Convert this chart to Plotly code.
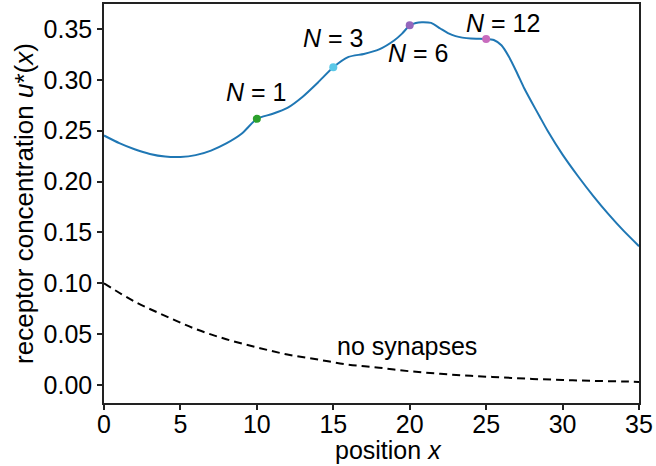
import plotly.graph_objects as go

# Blue curve u*(x) with synapses
x_syn = [0, 1, 2, 3, 4, 5, 6, 7, 8, 9, 10, 11, 12, 13, 14, 15, 16, 17, 18, 19, 19.5, 20,
         20.4, 20.8, 21.4, 22, 22.5, 23, 24, 25, 25.5, 26, 26.5, 27, 27.5, 28, 28.5, 29,
         30, 31, 32, 33, 34, 35]
u_syn = [0.2453, 0.2378, 0.2318, 0.2272, 0.2246, 0.2242, 0.2260, 0.2305, 0.2375, 0.2470, 0.2617,
         0.2665, 0.2725, 0.2835, 0.2975, 0.3124, 0.3226, 0.3255, 0.3300, 0.3390, 0.3455, 0.3536,
         0.3560, 0.3567, 0.3560, 0.3505, 0.3460, 0.3430, 0.3406, 0.3403, 0.3392, 0.3340, 0.3225,
         0.3075, 0.2915, 0.2775, 0.2640, 0.2505, 0.2265, 0.2055, 0.1860, 0.1680, 0.1515, 0.1365]

# Dashed curve: no synapses
x_nosyn = [0, 2, 4, 6, 8, 10, 12, 14, 16, 18, 20, 22, 24, 26, 28, 30, 32, 34, 35]
u_nosyn = [0.100, 0.082, 0.068, 0.055, 0.045, 0.037, 0.030, 0.025, 0.020, 0.017, 0.0135,
           0.011, 0.009, 0.0075, 0.006, 0.005, 0.004, 0.0035, 0.003]

# Marked synapse positions
mark_x = [10, 15, 20, 25]
mark_y = [0.2617, 0.3124, 0.3536, 0.3403]
mark_colors = ["#2ca02c", "#5ac8e8", "#9467bd", "#c86cbe"]

# Annotations
label_text = ["<i>N</i> = 1", "<i>N</i> = 3", "<i>N</i> = 6", "<i>N</i> = 12", "no synapses"]
label_x = [9.97, 15.0, 20.57, 26.13, 19.85]
label_y = [0.2885, 0.3415, 0.3268, 0.3563, 0.038]

x_ticks = [0, 5, 10, 15, 20, 25, 30, 35]
y_ticks = [0.00, 0.05, 0.10, 0.15, 0.20, 0.25, 0.30, 0.35]

FONT = "Liberation Sans, Arial, Helvetica, sans-serif"
FS = 25

fig = go.Figure()
fig.add_trace(go.Scatter(x=x_nosyn, y=u_nosyn, mode="lines",
                         line=dict(color="black", width=2, dash="8px,5px", shape="spline"),
                         showlegend=False, hoverinfo="skip"))
fig.add_trace(go.Scatter(x=x_syn, y=u_syn, mode="lines",
                         line=dict(color="#1f77b4", width=2, shape="spline", smoothing=0.6),
                         showlegend=False, hoverinfo="skip"))
fig.add_trace(go.Scatter(x=mark_x, y=mark_y, mode="markers",
                         marker=dict(color=mark_colors, size=8),
                         showlegend=False, hoverinfo="skip"))

for t, lx, ly in zip(label_text, label_x, label_y):
    fig.add_annotation(x=lx, y=ly, text=t, showarrow=False,
                       font=dict(family=FONT, size=FS, color="black"),
                       xanchor="center", yanchor="middle")

# x-axis title (placed as in the reference, slightly right of centre)
fig.add_annotation(x=0.531, y=-0.119, xref="paper", yref="paper",
                   text="position <i>x</i>", showarrow=False, borderpad=0,
                   font=dict(family=FONT, size=FS, color="black"),
                   xanchor="center", yanchor="middle")

axis_common = dict(showline=True, linecolor="#222222", linewidth=1.5, mirror=True,
                   ticks="outside", ticklen=5, tickwidth=1.5, tickcolor="#222222",
                   showgrid=False, zeroline=False,
                   tickfont=dict(family=FONT, size=FS, color="black"))

fig.update_xaxes(range=[0, 35], tickvals=x_ticks, ticktext=[str(v) for v in x_ticks],
                 ticklabelstandoff=-7,
                 **axis_common)
fig.update_yaxes(range=[-0.0177, 0.3746], tickvals=y_ticks,
                 ticktext=[f"{v:.2f}" for v in y_ticks],
                 title=dict(text="receptor concentration <i>u</i>*(<i>x</i>)",
                            font=dict(family=FONT, size=26, color="black"), standoff=2),
                 **axis_common)

fig.update_layout(width=656, height=466,
                  margin=dict(l=104, r=17, t=4, b=63, pad=0, autoexpand=False),
                  plot_bgcolor="white", paper_bgcolor="white",
                  font=dict(family=FONT, color="black"))

fig.write_html("out.html", config={"displayModeBar": False},
               post_script="document.body.style.margin='0';")
